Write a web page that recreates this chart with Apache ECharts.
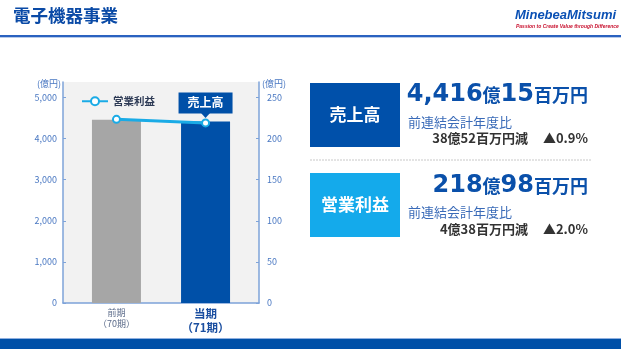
<!DOCTYPE html>
<html><head><meta charset="utf-8">
<script src="https://cdn.jsdelivr.net/npm/echarts@6/dist/echarts.min.js"></script>
<style>html,body{margin:0;padding:0;background:#fff}#c{width:621px;height:349px}</style>
</head><body><div id="c"></div>
<script>
const categories = ['前期\n（70期）', '当期\n（71期）'];
const salesValues = [4454.67, 4416.15];      // 売上高 (億円)
const profitValues = [223.36, 218.98];       // 営業利益 (億円)
const leftTicks = [0, 1000, 2000, 3000, 4000, 5000];
const rightTicks = [0, 50, 100, 150, 200, 250];

const JP = '"Noto Sans CJK JP", sans-serif';
const NUM = '"DejaVu Sans", sans-serif';
const chart = echarts.init(document.getElementById('c'));
const axisBlue = '#7ea3d9';
const labelBlue = '#4a78c2';

function panelText(y, big1, unit1, big2, unit2, diff, pct, yCmp, yDiff) {
  return [
    { type: 'text', right: 621 - 588, top: y - 16, style: {
      text: '{n|' + big1 + '}{u|' + unit1 + '}{n|' + big2 + '}{u|' + unit2 + '}',
      rich: { n: { fontFamily: NUM, fontWeight: 'bold', fontSize: 24, fill: '#0a50aa', lineHeight: 30 },
              u: { fontFamily: JP, fontWeight: 'bold', fontSize: 18, fill: '#0a50aa', lineHeight: 30 } } } },
    { type: 'text', left: 408, top: yCmp - 8, style: { text: '前連結会計年度比', font: '13px ' + JP, fill: '#3a6bb8' } },
    { type: 'text', right: 621 - 588, top: yDiff - 9, style: {
      text: '{a|' + diff + '}{s|}{a|▲' + pct + '}',
      rich: { a: { fontFamily: JP, fontWeight: 'bold', fontSize: 13, fill: '#333333', lineHeight: 18 },
              s: { width: 15 } } } }
  ];
}

const option = {
  animation: false,
  grid: { left: 63, right: 362, top: 82, bottom: 46, show: true, backgroundColor: '#f2f2f2', borderWidth: 0 },
  legend: {
    left: 76, top: 91, itemWidth: 26, itemHeight: 10, itemGap: 4,
    data: [{ name: '営業利益' }],
    textStyle: { fontFamily: JP, fontWeight: 'bold', fontSize: 10.5, color: '#2d3a55' }
  },
  xAxis: {
    type: 'value', min: -0.6, max: 1.6,
    splitLine: { show: false },
    axisLine: { show: true, onZero: false, lineStyle: { color: axisBlue, width: 1.5 } },
    axisTick: { show: false },
    axisLabel: {
      customValues: [0, 1], margin: 4, lineHeight: 12,
      formatter: v => {
        const parts = categories[Math.round(v)].split('\n');
        return v < 0.5 ? '{a|' + parts[0] + '}\n{a|' + parts[1] + '}' : '{b|' + parts[0] + '}\n{b|' + parts[1] + '}';
      },
      rich: {
        a: { fontFamily: JP, fontSize: 9, color: '#5b6b8a', lineHeight: 11 },
        b: { fontFamily: JP, fontSize: 11.5, fontWeight: 'bold', color: '#1a4ea0', lineHeight: 14 }
      }
    }
  },
  yAxis: [
    { type: 'value', min: 0, max: 5375, interval: 1000, position: 'left',
      splitLine: { show: false },
      axisLine: { show: true, onZero: false, lineStyle: { color: axisBlue, width: 1.5 } },
      axisTick: { show: true, inside: true, length: 3, customValues: leftTicks, lineStyle: { color: axisBlue } },
      axisLabel: { customValues: leftTicks, margin: 6, fontFamily: JP, fontSize: 9, color: labelBlue,
        formatter: v => v.toLocaleString('en-US') } },
    { type: 'value', min: 0, max: 268.75, interval: 50, position: 'right',
      splitLine: { show: false },
      axisLine: { show: true, onZero: false, lineStyle: { color: axisBlue, width: 1.5 } },
      axisTick: { show: true, inside: true, length: 3, customValues: rightTicks, lineStyle: { color: axisBlue } },
      axisLabel: { customValues: rightTicks, margin: 8, fontFamily: JP, fontSize: 9, color: labelBlue } }
  ],
  series: [
    { type: 'bar', name: '売上高', barWidth: 49, yAxisIndex: 0,
      data: [
        { value: [0, salesValues[0]], itemStyle: { color: '#a6a6a6' } },
        { value: [1, salesValues[1]], itemStyle: { color: '#0050a8' },
          label: { show: true, position: 'top', distance: 8, formatter: '売上高',
            backgroundColor: '#0050a8', color: '#fff', fontFamily: JP, fontWeight: 'bold', fontSize: 12,
            lineHeight: 13, padding: [4, 9] } }
      ]
    },
    { type: 'line', name: '営業利益', yAxisIndex: 1,
      data: [[0, profitValues[0]], [1, profitValues[1]]],
      symbol: 'circle', symbolSize: 7, z: 5,
      lineStyle: { color: '#1aabe6', width: 3 },
      itemStyle: { color: '#ffffff', borderColor: '#1aabe6', borderWidth: 2 } }
  ],
  graphic: [
    { type: 'text', left: 13, top: 7, style: { text: '電子機器事業', font: 'bold 17.5px ' + JP, fill: '#0a4aa6' } },
    { type: 'text', left: 515, top: 9, style: { text: 'MinebeaMitsumi', font: 'italic bold 13px "Liberation Sans", sans-serif', fill: '#0a50b4' } },
    { type: 'text', left: 516, top: 24, style: { text: 'Passion to Create Value through Difference', font: 'italic bold 5px "Liberation Sans", sans-serif', fill: '#c8102e' } },
    { type: 'rect', shape: { x: 0, y: 35, width: 621, height: 2 }, style: { fill: '#2a62c0' } },
    { type: 'rect', shape: { x: 0, y: 37, width: 621, height: 1 }, style: { fill: '#b8cbea' } },
    { type: 'rect', shape: { x: 0, y: 338, width: 621, height: 1 }, style: { fill: '#8fb0e0' } },
    { type: 'rect', shape: { x: 0, y: 339, width: 621, height: 10 }, style: { fill: '#0050a8' } },
    { type: 'text', left: 37, top: 79, style: { text: '(億円)', font: '9px ' + JP, fill: labelBlue } },
    { type: 'text', left: 262, top: 79, style: { text: '(億円)', font: '9px ' + JP, fill: labelBlue } },
    // panel 1
    { type: 'rect', shape: { x: 310, y: 83, width: 90, height: 64 }, style: { fill: '#0050aa' } },
    { type: 'text', x: 355, y: 115, style: { text: '売上高', font: 'bold 17px ' + JP, fill: '#fff', align: 'center', verticalAlign: 'middle' } },
    ...panelText(99, '4,416', '億', '15', '百万円', '38億52百万円減', '0.9%', 123.5, 141),
    { type: 'line', shape: { x1: 310, y1: 160, x2: 592, y2: 160 }, style: { stroke: '#c8c8c8', lineWidth: 1, lineDash: [2, 1] } },
    // panel 2
    { type: 'rect', shape: { x: 310, y: 173, width: 90, height: 64 }, style: { fill: '#14aaeb' } },
    { type: 'text', x: 355, y: 205, style: { text: '営業利益', font: 'bold 17px ' + JP, fill: '#fff', align: 'center', verticalAlign: 'middle' } },
    ...panelText(190, '218', '億', '98', '百万円', '4億38百万円減', '2.0%', 214, 232)
  ]
};
chart.setOption(option);

// callout pointer triangle, placed from the library's own scale
const tip = chart.convertToPixel({ gridIndex: 0 }, [1, salesValues[1]]);
const bx = tip[0], by = tip[1] - 8;
chart.setOption({ graphic: option.graphic.concat([{
  type: 'polygon', z: 100,
  shape: { points: [[bx - 4.5, by - 0.5], [bx + 4.5, by - 0.5], [bx, by + 4.5]] },
  style: { fill: '#0050a8' }
}]) });
</script></body></html>
